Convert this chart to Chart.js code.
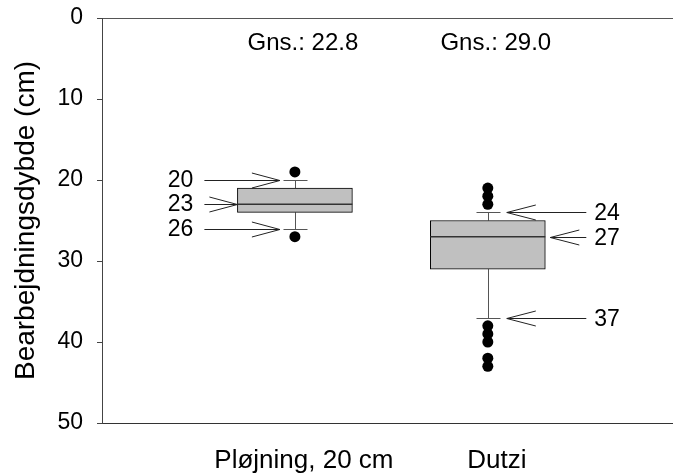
<!DOCTYPE html>
<html><head><meta charset="utf-8">
<script src="https://cdn.jsdelivr.net/npm/chart.js@4/dist/chart.umd.min.js"></script>
<style>html,body{margin:0;padding:0;background:#fff;}</style>
</head><body>
<canvas id="c" width="673" height="474"></canvas>
<script>
// ---- data ----
const categories = ['Pløjning, 20 cm', 'Dutzi'];
const catPos = [1, 2];
const q1Values = [21, 25];
const medianValues = [23, 27];
const q3Values = [24, 31];
const whiskerTop = [20, 24];
const whiskerBottom = [26, 37];
const outliersPloj = [19, 27];
const outliersDutzi = [21, 22, 23, 38, 39, 40, 42, 43];
const meanValues = [22.8, 29.0];
const annotPloj = [20, 23, 26];
const annotDutzi = [24, 27, 37];
const yTickStep = 10;
const yMin = 0, yMax = 50;
const yTitle = 'Bearbejdningsdybde (cm)';

const outlierValues = [outliersPloj, outliersDutzi];
const annotationValues = [annotPloj, annotDutzi];
const FONT = "'Liberation Sans', Arial, sans-serif";

function noPad(s) { s.paddingTop = 0; s.paddingBottom = 0; s.paddingLeft = 0; s.paddingRight = 0; }

const boxPlugin = {
  id: 'boxExtras',
  beforeDatasetsDraw(chart) {
    const {ctx, scales: {x, y}} = chart;
    ctx.save();
    ctx.strokeStyle = '#555';
    ctx.lineWidth = 1;
    catPos.forEach((p, i) => {
      const cx = Math.round(x.getPixelForValue(p)) + 0.5;
      const yt = Math.round(y.getPixelForValue(whiskerTop[i])) + 0.5;
      const yq1 = y.getPixelForValue(q1Values[i]);
      const yq3 = y.getPixelForValue(q3Values[i]);
      const yb = Math.round(y.getPixelForValue(whiskerBottom[i])) + 0.5;
      ctx.beginPath();
      ctx.moveTo(cx, yt); ctx.lineTo(cx, yq1);
      ctx.moveTo(cx, yq3); ctx.lineTo(cx, yb);
      ctx.moveTo(cx - 12, yt); ctx.lineTo(cx + 12, yt);
      ctx.moveTo(cx - 12, yb); ctx.lineTo(cx + 12, yb);
      ctx.stroke();
    });
    ctx.restore();
  },
  afterDatasetsDraw(chart) {
    const {ctx, scales: {x, y}} = chart;
    const bars = chart.getDatasetMeta(0).data;
    ctx.save();
    ctx.strokeStyle = '#333';
    ctx.lineWidth = 1.5;
    bars.forEach((bar, i) => {
      const my = y.getPixelForValue(medianValues[i]);
      ctx.beginPath();
      ctx.moveTo(bar.x - bar.width / 2, my);
      ctx.lineTo(bar.x + bar.width / 2, my);
      ctx.stroke();
    });
    ctx.strokeStyle = '#222';
    ctx.lineWidth = 1;
    ctx.fillStyle = '#000';
    ctx.font = '23px ' + FONT;
    ctx.textBaseline = 'middle';
    bars.forEach((bar, i) => {
      const cx = x.getPixelForValue(catPos[i]);
      const boxL = bar.x - bar.width / 2, boxR = bar.x + bar.width / 2;
      const leftSide = i === 0;
      annotationValues[i].forEach(v => {
        const py = Math.round(y.getPixelForValue(v)) + 0.5;
        const isMed = v === medianValues[i];
        ctx.beginPath();
        if (leftSide) {
          const tip = isMed ? boxL : cx - 15;
          const tail = boxL - 33;
          ctx.moveTo(tail, py); ctx.lineTo(tip, py);
          ctx.moveTo(tip - 28, py - 7.5); ctx.lineTo(tip, py); ctx.lineTo(tip - 28, py + 7.5);
          ctx.stroke();
          ctx.textAlign = 'right';
          ctx.fillText(String(v), boxL - 44, py);
        } else {
          const tip = isMed ? boxR + 5 : cx + 19;
          const tail = boxR + 41;
          ctx.moveTo(tail, py); ctx.lineTo(tip, py);
          ctx.moveTo(tip + 29, py - 7.5); ctx.lineTo(tip, py); ctx.lineTo(tip + 29, py + 7.5);
          ctx.stroke();
          ctx.textAlign = 'left';
          ctx.fillText(String(v), boxR + 49, py + 1);
        }
      });
    });
    ctx.font = '24px ' + FONT;
    ctx.textAlign = 'center';
    const ty = y.getPixelForValue(yMin) + 25;
    catPos.forEach((p, i) => {
      ctx.fillText('Gns.: ' + meanValues[i].toFixed(1), x.getPixelForValue(p) + 8, ty);
    });
    ctx.restore();
  }
};

new Chart(document.getElementById('c'), {
  type: 'scatter',
  data: {
    datasets: [
      {
        type: 'bar',
        data: catPos.map((p, i) => ({x: p, y: [q1Values[i], q3Values[i]]})),
        backgroundColor: '#c0c0c0',
        borderColor: '#000',
        borderWidth: 1,
        borderSkipped: false,
        barThickness: 115,
        order: 2
      },
      {
        type: 'scatter',
        data: outlierValues.flatMap((arr, i) => arr.map(v => ({x: catPos[i], y: v}))),
        backgroundColor: '#000',
        borderWidth: 0,
        pointRadius: 5.5,
        order: 1
      }
    ]
  },
  options: {
    responsive: false,
    animation: false,
    devicePixelRatio: 1,
    layout: {padding: 0, autoPadding: false},
    plugins: {legend: {display: false}, tooltip: {enabled: false}},
    scales: {
      x: {
        type: 'linear',
        position: 'bottom',
        offset: false,
        min: 0, max: 2.96,
        grid: {display: false, offset: false},
        border: {display: true, color: '#333', width: 1},
        afterBuildTicks: s => { s.ticks = catPos.map(v => ({value: v})); },
        afterFit: s => { s.height = 51; noPad(s); },
        ticks: {
          font: {family: FONT, size: 26},
          color: '#000',
          padding: 14,
          labelOffset: 9,
          maxRotation: 0,
          autoSkip: false,
          callback: v => categories[catPos.indexOf(v)] ?? ''
        }
      },
      xTop: {
        type: 'linear',
        axis: 'x',
        position: 'top',
        min: 0, max: 1,
        grid: {display: false},
        ticks: {display: false},
        border: {display: true, color: '#555', width: 1},
        afterFit: s => { s.height = 18; noPad(s); }
      },
      y: {
        type: 'linear',
        reverse: true,
        min: yMin, max: yMax,
        afterFit: s => { s.width = 102; noPad(s); },
        ticks: {stepSize: yTickStep, font: {family: FONT, size: 23}, color: '#000', padding: 14},
        grid: {drawOnChartArea: false, drawTicks: true, tickLength: 5, color: '#444'},
        border: {display: true, color: '#444', width: 1},
        title: {display: true, text: yTitle, font: {family: FONT, size: 28}, color: '#000', padding: {top: 9, bottom: 0}}
      }
    }
  },
  plugins: [boxPlugin]
});
</script>
</body></html>
